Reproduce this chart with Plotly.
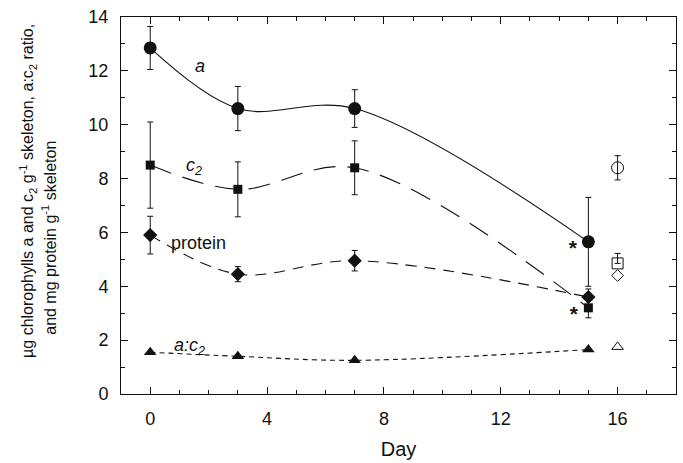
import plotly.graph_objects as go

days = [0, 3, 7, 15]
chl_a = [12.85, 10.6, 10.6, 5.65]
chl_a_err = [0.8, 0.82, 0.7, 1.65]
chl_c2 = [8.5, 7.6, 8.4, 3.2]
chl_c2_err = [1.6, 1.02, 1.0, 0.37]
protein = [5.9, 4.45, 4.95, 3.6]
protein_err = [0.7, 0.28, 0.38, 0.3]
ratio = [1.55, 1.4, 1.25, 1.65]

ref_day = [16]
ref_a = [8.4]
ref_a_err = [0.45]
ref_c2 = [4.85]
ref_c2_err_up = [0.37]
ref_protein = [4.4]
ref_ratio = [1.75]

star_day = [14.47, 14.5]
star_val = [5.35, 2.9]

ytitle_lines = [
    "µg chlorophylls a and c<sub>2</sub> g<sup>-1</sup> skeleton, a:c<sub>2</sub> ratio,",
    "and mg protein g<sup>-1</sup> skeleton",
]

FONT = "Liberation Sans, Arial, sans-serif"
INK = "#111111"

fig = go.Figure()

def err(vals, **kw):
    d = dict(type="data", array=vals, visible=True, color=INK, thickness=1, width=3)
    d.update(kw)
    return d

# a (solid)
fig.add_trace(go.Scatter(x=days, y=chl_a, mode="lines+markers",
    line=dict(color=INK, width=1.1, shape="spline", smoothing=1.0),
    marker=dict(symbol="circle", size=13, color=INK),
    error_y=err(chl_a_err)))
# c2 (long dash)
fig.add_trace(go.Scatter(x=days, y=chl_c2, mode="lines+markers",
    line=dict(color=INK, width=1.1, shape="spline", smoothing=1.0, dash="22px,12px"),
    marker=dict(symbol="square", size=9, color=INK),
    error_y=err(chl_c2_err)))
# protein (medium dash)
fig.add_trace(go.Scatter(x=days, y=protein, mode="lines+markers",
    line=dict(color=INK, width=1.1, shape="spline", smoothing=1.0, dash="11px,8px"),
    marker=dict(symbol="diamond", size=11, color=INK),
    error_y=err(protein_err)))
# a:c2 (short dash)
fig.add_trace(go.Scatter(x=days, y=ratio, mode="lines+markers",
    line=dict(color=INK, width=1.1, shape="spline", smoothing=1.0, dash="5px,4px"),
    marker=dict(symbol="triangle-up", size=11, color=INK)))

# open reference markers
fig.add_trace(go.Scatter(x=ref_day, y=ref_a, mode="markers",
    marker=dict(symbol="circle-open", size=12, color=INK, line=dict(width=1)),
    error_y=err(ref_a_err)))
fig.add_trace(go.Scatter(x=ref_day, y=ref_c2, mode="markers",
    marker=dict(symbol="square-open", size=11, color=INK, line=dict(width=1)),
    error_y=dict(type="data", array=ref_c2_err_up, arrayminus=[0], visible=True,
                 color=INK, thickness=1, width=3)))
fig.add_trace(go.Scatter(x=ref_day, y=ref_protein, mode="markers",
    marker=dict(symbol="diamond-open", size=9, color=INK, line=dict(width=1))))
fig.add_trace(go.Scatter(x=ref_day, y=ref_ratio, mode="markers",
    marker=dict(symbol="triangle-up-open", size=10, color=INK, line=dict(width=1))))

# asterisks
fig.add_trace(go.Scatter(x=star_day, y=star_val, mode="text", text=["<b>*</b>", "<b>*</b>"],
    textfont=dict(family=FONT, size=21, color=INK), textposition="middle center"))

labels = [
    (1.7, 12.17, "<i>a</i>"),
    (1.5, 8.45, "<i>c<sub>2</sub></i>"),
    (1.65, 5.62, "protein"),
    (1.33, 1.76, "<i>a:c<sub>2</sub></i>"),
]
for x, y, t in labels:
    fig.add_annotation(x=x, y=y, text=t, showarrow=False,
                       font=dict(family=FONT, size=18, color=INK))

for (px, py), t in zip([(-0.168, 0.538), (-0.13, 0.414)], ytitle_lines):
    fig.add_annotation(
        xref="paper", yref="paper", x=px, y=py, xanchor="center", yanchor="middle",
        textangle=-90, showarrow=False, text=t,
        font=dict(family=FONT, size=16, color=INK))

axis_common = dict(showline=True, linecolor=INK, linewidth=1, mirror="ticks",
                   ticks="inside", ticklen=7, tickcolor=INK, tickwidth=1,
                   showgrid=False, zeroline=False, ticklabelstandoff=8,
                   tickfont=dict(family=FONT, size=18, color=INK))

fig.update_xaxes(range=[-1, 18], tick0=0, dtick=4,
                 minor=dict(ticks="inside", ticklen=4, dtick=1, tick0=0, tickcolor=INK, showgrid=False),
                 title=dict(text="Day", font=dict(family=FONT, size=20, color=INK), standoff=14),
                 **axis_common)
fig.update_yaxes(range=[0, 14], tick0=0, dtick=2,
                 minor=dict(ticks="inside", ticklen=4, dtick=1, tick0=0, tickcolor=INK, showgrid=False),
                 **axis_common)

fig.update_layout(
    width=683, height=463,
    margin=dict(l=121, r=7, t=17, b=69),
    paper_bgcolor="white", plot_bgcolor="white",
    showlegend=False,
    font=dict(family=FONT, color=INK),
)

fig.write_html("out.html")
